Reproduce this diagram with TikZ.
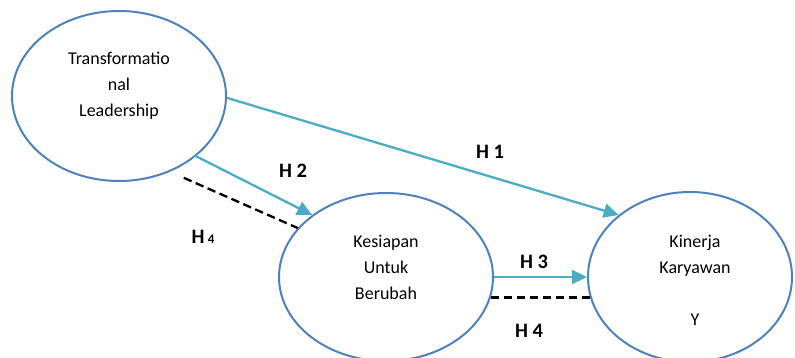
\documentclass[tikz,border=0pt]{standalone}
\usepackage{fontspec}
\setmainfont{Carlito}
\usetikzlibrary{arrows.meta,shapes.geometric}
\definecolor{ellblue}{HTML}{4F81BD}
\definecolor{arrteal}{HTML}{4BACC6}
\tikzset{
  latent/.style={draw=ellblue, line width=2pt, ellipse, inner sep=0pt},
  lbl/.style={align=center, font=\fontsize{18}{26}\selectfont, inner sep=0pt},
  hyp/.style={font=\fontsize{20.5}{24}\selectfont\bfseries, inner sep=0pt},
  path arrow/.style={draw=arrteal, line width=2.3pt, -{Triangle[length=15pt,width=14pt]}},
  mod line/.style={draw=black, line width=2.3pt, dash pattern=on 8.5pt off 4.5pt}
}
\begin{document}
\begin{tikzpicture}[x=1pt,y=-1pt]
\useasboundingbox (0,0) rectangle (795,358);
\node[latent, minimum width=214pt, minimum height=170pt] (tl) at (119,96) {};
\node[latent, minimum width=214pt, minimum height=168pt] (ks) at (386,277) {};
\node[latent, minimum width=204pt, minimum height=170pt] (kk) at (690,277) {};
\node[lbl] (tltext) at (119,86) {Transformatio\\nal\\Leadership};
\node[lbl] (kstext) at (386,267) {Kesiapan\\Untuk\\Berubah};
\node[lbl] (kktext) at (695,280) {Kinerja\\Karyawan\\ \\Y};
% connectors
\draw[path arrow] (tl.-1) -- (kk.139);
\draw[path arrow] (tl.-38) -- (ks.140);
\draw[mod line, shorten <=15pt] (tl.-56) -- (ks.151);
\draw[path arrow] (ks.0) -- (kk.180);
\draw[mod line] (ks.-11) -- (kk.191 |- ks.-11);
% labels
\node[hyp] (h1) at (490,152) {H 1};
\node[hyp] (h2) at (293,171) {H 2};
\node[hyp] (h4a) at (203,237) {H\,{\fontsize{13}{15}\selectfont 4}};
\node[hyp] (h3) at (534,262) {H 3};
\node[hyp] (h4b) at (529,331) {H 4};
\end{tikzpicture}
\end{document}
